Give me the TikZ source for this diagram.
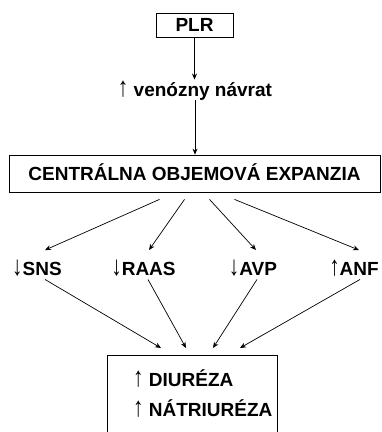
\documentclass[tikz,border=0pt]{standalone}
\usepackage{fontspec}
\setmainfont{Liberation Sans}
\usetikzlibrary{arrows.meta}

\newcommand{\arrup}{{\mdseries\scalebox{1.1}[1.45]{↑}}}
\newcommand{\arrdn}{{\mdseries\scalebox{1.1}[1.45]{↓}}}

\begin{document}
\begin{tikzpicture}[x=1pt,y=-1pt,
  txt/.style={font=\fontsize{19}{22}\selectfont\bfseries,text height=13.5pt,text depth=0pt,inner sep=3.5pt},
  box/.style={txt,draw,line width=0.8pt},
  arr/.style={-{Stealth[length=6pt,width=5pt]},line width=0.7pt}]
  \clip (0,0) rectangle (382,432);

  \node [box,minimum width=77pt,minimum height=24pt] (plr) at (194.5,25) {PLR};
  \node [txt] (ven) at (195,90) {\arrup\ venózny návrat};
  \node [box,minimum width=371pt,minimum height=37pt] (central) at (194.5,173.5) {CENTRÁLNA OBJEMOVÁ EXPANZIA};

  \node [txt] (sns) at (37,269) {\arrdn SNS};
  \node [txt] (raas) at (143.5,269) {\arrdn RAAS};
  \node [txt] (avp) at (253,269) {\arrdn AVP};
  \node [txt] (anf) at (354,269) {\arrup ANF};

  % result box, cut off at the bottom
  \node [draw,line width=0.8pt,minimum width=170pt,minimum height=85pt,anchor=north] (res) at (192,355) {};
  \node [txt,anchor=west] (diu) at (129.5,380) {\arrup\ DIURÉZA};
  \node [txt,anchor=west] (nat) at (129.5,410) {\arrup\ NÁTRIURÉZA};

  \draw [arr] (plr.south) -- (plr.south |- ven.north);
  \draw [arr] (ven.south) -- (ven.south |- central.north);

  \draw [arr] ([xshift=-35pt,yshift=-7pt]central.south) -- ([xshift=8pt,yshift=8.5pt]sns.north);
  \draw [arr] ([xshift=-10pt,yshift=-7pt]central.south) -- ([xshift=5.5pt,yshift=8.5pt]raas.north);
  \draw [arr] ([xshift=15pt,yshift=-7pt]central.south) -- ([xshift=3pt,yshift=8.5pt]avp.north);
  \draw [arr] ([xshift=40pt,yshift=-7pt]central.south) -- ([xshift=5pt,yshift=8.5pt]anf.north);

  \draw [arr] ([xshift=8pt]sns.south) -- ([xshift=-31pt,yshift=7pt]res.north);
  \draw [arr] ([xshift=4.5pt]raas.south) -- ([xshift=-6pt,yshift=7pt]res.north);
  \draw [arr] ([xshift=4pt]avp.south) -- ([xshift=21pt,yshift=7pt]res.north);
  \draw [arr] ([xshift=6pt]anf.south) -- ([xshift=48pt,yshift=7pt]res.north);

\end{tikzpicture}
\end{document}
